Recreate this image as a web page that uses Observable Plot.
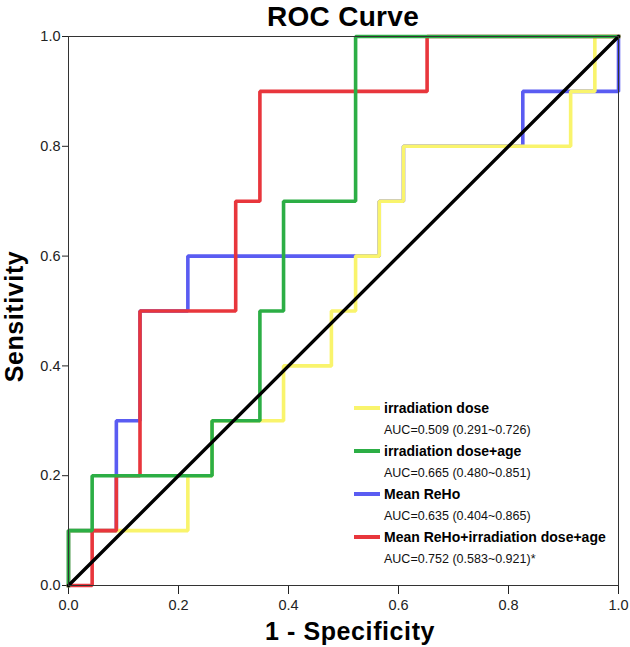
<!DOCTYPE html>
<html>
<head>
<meta charset="utf-8">
<script src="https://cdn.jsdelivr.net/npm/d3@7"></script>
<script src="https://cdn.jsdelivr.net/npm/@observablehq/plot@0.6"></script>
<style>
  html, body { margin: 0; padding: 0; background: #fff; }
  #wrap { position: relative; width: 630px; height: 647px; font-family: "Liberation Sans", Arial, sans-serif; color: #000; }
  #wrap svg { position: absolute; left: 0; top: 0; }
  .abs { position: absolute; white-space: nowrap; }
  .title { font-size: 28px; font-weight: bold; line-height: 28px; text-align: center; letter-spacing: 0.3px; }
  .axlab { font-size: 25px; font-weight: bold; line-height: 25px; text-align: center; letter-spacing: 0.6px; }
  .lg-name { font-size: 14px; font-weight: bold; line-height: 16px; }
  .lg-auc { font-size: 12.5px; line-height: 16px; color: #111; }
  .sw { position: absolute; width: 26px; height: 4px; }
</style>
</head>
<body>
<div id="wrap"></div>
<script>
// ---- Data ----
const titleText = "ROC Curve";
const xLabel = "1 - Specificity";
const yLabel = "Sensitivity";
const axisTicks = [0, 0.2, 0.4, 0.6, 0.8, 1.0];

const seriesNames = ["irradiation dose", "irradiation dose+age", "Mean ReHo", "Mean ReHo+irradiation dose+age"];
const aucLabels = ["AUC=0.509 (0.291~0.726)", "AUC=0.665 (0.480~0.851)", "AUC=0.635 (0.404~0.865)", "AUC=0.752 (0.583~0.921)*"];
const seriesColors = ["#f9f46c", "#2cae45", "#5a5cf2", "#e8363c"];

// irradiation dose (yellow)
const doseX = [0, 0, 0.217, 0.217, 0.261, 0.261, 0.391, 0.391, 0.478, 0.478, 0.522, 0.522, 0.565, 0.565, 0.609, 0.609, 0.913, 0.913, 0.957, 0.957, 1];
const doseY = [0, 0.1, 0.1, 0.2, 0.2, 0.3, 0.3, 0.4, 0.4, 0.5, 0.5, 0.6, 0.6, 0.7, 0.7, 0.8, 0.8, 0.9, 0.9, 1, 1];
// irradiation dose+age (green)
const doseAgeX = [0, 0, 0.043, 0.043, 0.261, 0.261, 0.348, 0.348, 0.391, 0.391, 0.522, 0.522, 1];
const doseAgeY = [0, 0.1, 0.1, 0.2, 0.2, 0.3, 0.3, 0.5, 0.5, 0.7, 0.7, 1, 1];
// Mean ReHo (blue)
const rehoX = [0, 0, 0.087, 0.087, 0.130, 0.130, 0.217, 0.217, 0.565, 0.565, 0.609, 0.609, 0.826, 0.826, 1, 1];
const rehoY = [0, 0.1, 0.1, 0.3, 0.3, 0.5, 0.5, 0.6, 0.6, 0.7, 0.7, 0.8, 0.8, 0.9, 0.9, 1];
// Mean ReHo+irradiation dose+age (red)
const comboX = [0, 0.043, 0.043, 0.087, 0.087, 0.130, 0.130, 0.304, 0.304, 0.348, 0.348, 0.652, 0.652, 1];
const comboY = [0, 0, 0.1, 0.1, 0.2, 0.2, 0.5, 0.5, 0.7, 0.7, 0.9, 0.9, 1, 1];
// reference diagonal
const diagX = [0, 1];
const diagY = [0, 1];

// ---- Build tables ----
const toRows = (xs, ys, name) => xs.map((x, i) => ({x, y: ys[i], name}));
const curves = {
  [seriesNames[0]]: toRows(doseX, doseY, seriesNames[0]),
  [seriesNames[1]]: toRows(doseAgeX, doseAgeY, seriesNames[1]),
  [seriesNames[2]]: toRows(rehoX, rehoY, seriesNames[2]),
  [seriesNames[3]]: toRows(comboX, comboY, seriesNames[3])
};
const diag = toRows(diagX, diagY, "ref");
// drawing order as in the reference: blue, yellow, red, green
const drawOrder = [2, 0, 3, 1];

const plot = Plot.plot({
  width: 630,
  height: 647,
  marginLeft: 68,
  marginRight: 12,
  marginTop: 36,
  marginBottom: 62,
  style: {fontFamily: "'Liberation Sans', Arial, sans-serif", fontSize: "14.5px", color: "#222", background: "transparent"},
  x: {domain: [0, 1]},
  y: {domain: [0, 1]},
  marks: [
    Plot.axisX({ticks: axisTicks, tickFormat: d3.format(".1f"), tickSize: 9, tickPadding: 5, label: null}),
    Plot.axisY({ticks: axisTicks, tickFormat: d3.format(".1f"), tickSize: 6, tickPadding: 2, label: null}),
    ...drawOrder.map(i => Plot.line(curves[seriesNames[i]], {x: "x", y: "y", stroke: seriesColors[i], strokeWidth: 3.6, strokeLinejoin: "miter", strokeLinecap: "square"})),
    Plot.line(diag, {x: "x", y: "y", stroke: "#000", strokeWidth: 3.4}),
    Plot.frame({stroke: "#333", strokeWidth: 1})
  ]
});

const wrap = document.getElementById("wrap");
wrap.appendChild(plot);

function addDiv(cls, text, css) {
  const d = document.createElement("div");
  d.className = "abs " + cls;
  d.textContent = text;
  Object.assign(d.style, css);
  wrap.appendChild(d);
  return d;
}

addDiv("title", titleText, {left: "243px", top: "3px", width: "200px"});
addDiv("axlab", xLabel, {left: "200px", top: "619px", width: "300px"});
addDiv("axlab", yLabel, {left: "-86px", top: "304px", width: "200px", height: "25px", transform: "rotate(-90deg)", transformOrigin: "100px 12.5px"});

// legend
seriesNames.forEach((name, i) => {
  const cy = 408 + i * 43.1;
  const sw = document.createElement("div");
  sw.className = "sw";
  Object.assign(sw.style, {left: "354px", top: (cy - 2) + "px", background: seriesColors[i]});
  wrap.appendChild(sw);
  addDiv("lg-name", name, {left: "384px", top: (cy - 8.5) + "px"});
  addDiv("lg-auc", aucLabels[i], {left: "384px", top: (cy + 22 - 8.5) + "px"});
});
</script>
</body>
</html>
